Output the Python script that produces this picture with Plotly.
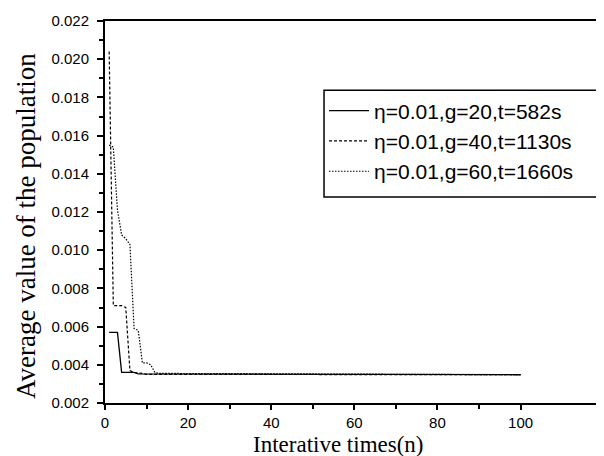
import plotly.graph_objects as go

# g=20 (solid)
x_g20 = [1, 2, 3, 4, 5, 6, 7, 8, 100]
y_g20 = [0.0057, 0.0057, 0.0057, 0.0036, 0.0036, 0.0036, 0.0036, 0.00352, 0.00348]

# g=40 (dashed)
x_g40 = [1, 2, 3, 4, 5, 6, 7, 8, 9, 10, 100]
y_g40 = [0.0204, 0.0071, 0.0071, 0.0071, 0.0070, 0.0037, 0.0036, 0.00358, 0.00355, 0.0035, 0.00348]

# g=60 (dotted)
x_g60 = [1, 2, 3, 4, 5, 6, 7, 8, 9, 10, 11, 12, 13, 100]
y_g60 = [0.0155, 0.0154, 0.0121, 0.0108, 0.0106, 0.0103, 0.0059, 0.0058, 0.0041, 0.0041, 0.0040, 0.0036, 0.00355, 0.00348]

names = ["η=0.01,g=20,t=582s", "η=0.01,g=40,t=1130s", "η=0.01,g=60,t=1660s"]

fig = go.Figure()
fig.add_trace(go.Scatter(x=x_g20, y=y_g20, mode="lines", name=names[0],
                         line=dict(color="black", width=1.3)))
fig.add_trace(go.Scatter(x=x_g40, y=y_g40, mode="lines", name=names[1],
                         line=dict(color="black", width=1.2, dash="3px,2px")))
fig.add_trace(go.Scatter(x=x_g60, y=y_g60, mode="lines", name=names[2],
                         line=dict(color="black", width=1.2, dash="1.5px,1.5px")))

fig.update_layout(
    width=604, height=456,
    margin=dict(l=97, r=0, t=13, b=61),
    plot_bgcolor="white", paper_bgcolor="white",
    showlegend=True,
    legend=dict(x=0.432, y=0.818, xanchor="left", yanchor="top",
                borderwidth=0, bgcolor="rgba(0,0,0,0)",
                font=dict(family="Liberation Sans, Arial", size=21, color="black"),
                itemwidth=40, tracegroupgap=0),
    # legend frame, a bit taller than the entries like in the original
    shapes=[dict(type="rect", xref="paper", yref="paper", x0=0.432, x1=0.988, y0=0.539, y1=0.819,
                 line=dict(color="black", width=1.5), fillcolor="white", layer="above")],
    annotations=[
        dict(text="Interative times(n)", xref="paper", yref="paper", x=0.46, y=-0.108,
             xanchor="center", yanchor="middle", showarrow=False,
             font=dict(family="Liberation Serif, Times New Roman", size=23, color="black")),
        dict(text="Average value of the population", xref="paper", yref="paper", x=-0.156, y=0.463,
             xanchor="center", yanchor="middle", showarrow=False, textangle=-90,
             font=dict(family="Liberation Serif, Times New Roman", size=27, color="black")),
    ],
)
fig.update_xaxes(
    range=[0, 122], tickvals=[0, 20, 40, 60, 80, 100],
    ticks="outside", ticklen=5, tickwidth=1.5, tickcolor="black",
    minor=dict(tickvals=[10, 30, 50, 70, 90], ticks="outside", ticklen=4, tickwidth=1.5, tickcolor="black"),
    showline=True, linecolor="black", linewidth=2, mirror=True,
    showgrid=False, zeroline=False,
    tickfont=dict(family="Liberation Sans, Arial", size=15, color="black"),
)
fig.update_yaxes(
    range=[0.002, 0.022], dtick=0.002, tick0=0.002, tickformat=".3f",
    ticks="outside", ticklen=6, tickwidth=1.5, tickcolor="black", ticklabelstandoff=5,
    minor=dict(dtick=0.001, ticks="outside", ticklen=4, tickwidth=1.5, tickcolor="black"),
    showline=True, linecolor="black", linewidth=2, mirror=False,
    showgrid=False, zeroline=False,
    tickfont=dict(family="Liberation Sans, Arial", size=15, color="black"),
)

fig.write_html("out.html")
